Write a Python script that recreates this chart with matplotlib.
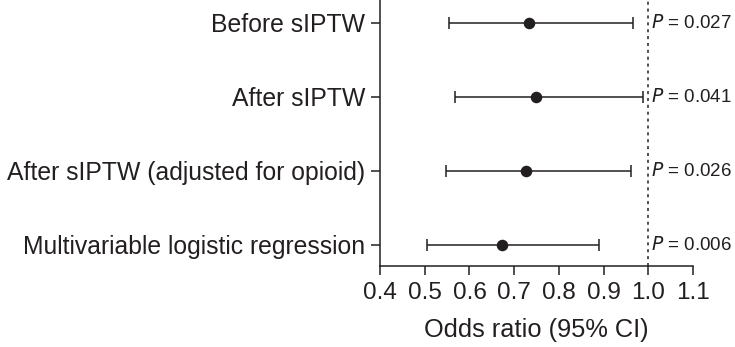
import matplotlib
matplotlib.use("Agg")
import matplotlib.pyplot as plt

# forest plot of odds ratios
labels = ["Before sIPTW", "After sIPTW", "After sIPTW (adjusted for opioid)",
          "Multivariable logistic regression"]
odds_ratio = [0.734, 0.749, 0.727, 0.672]
ci_low = [0.555, 0.567, 0.547, 0.505]
ci_high = [0.965, 0.987, 0.961, 0.890]
p_text = ["0.027", "0.041", "0.026", "0.006"]
xticks = [0.4, 0.5, 0.6, 0.7, 0.8, 0.9, 1.0, 1.1]

ink = "#231f20"
plt.rcParams["font.family"] = ["Liberation Sans", "DejaVu Sans"]

fig = plt.figure(figsize=(7.35, 3.47), dpi=100)
ax = fig.add_axes([0.517, 0.2334, 0.426, 0.7666])

ypos = list(range(len(labels), 0, -1))
err = [[o - l for o, l in zip(odds_ratio, ci_low)],
       [h - o for o, h in zip(odds_ratio, ci_high)]]
ax.errorbar(odds_ratio, ypos, xerr=err, fmt="o", color=ink, ms=7.3,
            elinewidth=1.1, capsize=4.5, capthick=1.1)

ax.axvline(1.0, color=ink, linestyle=(0, (2, 2.5)), linewidth=1.1, zorder=0)

for y, p in zip(ypos, p_text):
    ax.text(1.005, y, "$\\it{P}$ = " + p, fontsize=13.5, color=ink,
            va="center", ha="left", family="Liberation Sans")

ax.set_xlim(0.4, 1.1)
ax.set_ylim(0.716, 4.31)
ax.set_xticks(xticks)
ax.set_xticklabels([f"{t:.1f}" for t in xticks])
ax.set_yticks(ypos)
ax.set_yticklabels(labels)

for side in ["top", "right"]:
    ax.spines[side].set_visible(False)
for side in ["left", "bottom"]:
    ax.spines[side].set_linewidth(1.1)
    ax.spines[side].set_color(ink)

ax.tick_params(axis="x", labelsize=17.5, length=6.5, width=1.1, pad=5, colors=ink)
ax.tick_params(axis="y", labelsize=17.8, length=6.5, width=1.1, pad=4, colors=ink)
ax.set_xlabel("Odds ratio (95% CI)", fontsize=18.3, color=ink, labelpad=10)

fig.savefig("out.png", dpi=100)
